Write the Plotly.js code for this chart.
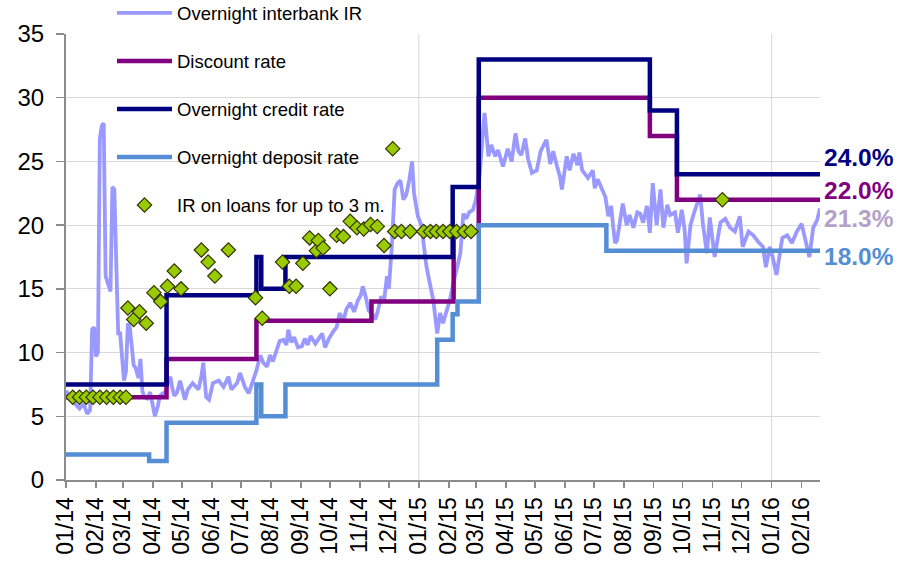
<!DOCTYPE html>
<html><head><meta charset="utf-8">
<script src="https://cdn.plot.ly/plotly-3.0.1.min.js"></script>
<style>html,body{margin:0;padding:0;background:#fff}#chart{width:902px;height:565px}</style>
</head><body><div id="chart"></div>
<script>
const interbankDates = [
'2014-01-01','2014-01-05','2014-01-10','2014-01-15','2014-01-19','2014-01-23','2014-01-26','2014-01-28','2014-01-30','2014-02-01',
'2014-02-03','2014-02-05','2014-02-07','2014-02-09','2014-02-11','2014-02-13','2014-02-16','2014-02-18','2014-02-20','2014-02-22',
'2014-02-24','2014-02-26','2014-02-28','2014-03-02','2014-03-04','2014-03-06','2014-03-08','2014-03-10','2014-03-12','2014-03-14',
'2014-03-17','2014-03-19','2014-03-21','2014-03-23','2014-03-26','2014-03-29','2014-04-01','2014-04-03','2014-04-06','2014-04-08',
'2014-04-11','2014-04-14','2014-04-17','2014-04-19','2014-04-21','2014-04-23','2014-04-26','2014-04-29','2014-05-04','2014-05-07',
'2014-05-12','2014-05-18','2014-05-21','2014-05-23','2014-05-26','2014-05-29','2014-06-02','2014-06-08','2014-06-13','2014-06-18',
'2014-06-21','2014-06-27','2014-06-30','2014-07-05','2014-07-09','2014-07-14','2014-07-17','2014-07-21','2014-07-24','2014-07-28',
'2014-07-31','2014-08-03','2014-08-07','2014-08-10','2014-08-14','2014-08-17','2014-08-19','2014-08-22','2014-08-25','2014-08-29',
'2014-09-02','2014-09-05','2014-09-08','2014-09-11','2014-09-16','2014-09-19','2014-09-23','2014-09-26','2014-09-30','2014-10-04',
'2014-10-08','2014-10-11','2014-10-15','2014-10-18','2014-10-22','2014-10-26','2014-10-30','2014-11-02','2014-11-04','2014-11-07',
'2014-11-10','2014-11-14','2014-11-17','2014-11-20','2014-11-23','2014-11-26','2014-11-29','2014-12-01','2014-12-04','2014-12-07',
'2014-12-10','2014-12-13','2014-12-16','2014-12-19','2014-12-22','2014-12-25','2014-12-27','2014-12-31','2015-01-04','2015-01-06',
'2015-01-09','2015-01-13','2015-01-16','2015-01-20','2015-01-23','2015-01-26','2015-01-30','2015-02-02','2015-02-05','2015-02-08',
'2015-02-13','2015-02-16','2015-02-19','2015-02-22','2015-02-26','2015-03-01','2015-03-05','2015-03-08','2015-03-10','2015-03-14',
'2015-03-17','2015-03-21','2015-03-24','2015-03-29','2015-04-03','2015-04-07','2015-04-11','2015-04-14','2015-04-17','2015-04-21',
'2015-04-24','2015-04-28','2015-05-03','2015-05-07','2015-05-13','2015-05-17','2015-05-20','2015-05-24','2015-05-27','2015-05-29',
'2015-06-03','2015-06-06','2015-06-10','2015-06-14','2015-06-16','2015-06-19','2015-06-22','2015-06-25','2015-06-30','2015-07-02',
'2015-07-05','2015-07-09','2015-07-13','2015-07-16','2015-07-19','2015-07-21','2015-07-23','2015-07-25','2015-07-28','2015-07-31',
'2015-08-04','2015-08-07','2015-08-11','2015-08-15','2015-08-18','2015-08-21','2015-08-25','2015-08-28','2015-08-31','2015-09-04',
'2015-09-08','2015-09-11','2015-09-15','2015-09-18','2015-09-23','2015-09-26','2015-09-30','2015-10-03','2015-10-05','2015-10-09',
'2015-10-12','2015-10-19','2015-10-22','2015-10-26','2015-10-29','2015-11-03','2015-11-09','2015-11-14','2015-11-19','2015-11-24',
'2015-11-29','2015-12-02','2015-12-08','2015-12-13','2015-12-18','2015-12-23','2015-12-26','2015-12-30','2016-01-02','2016-01-06',
'2016-01-12','2016-01-17','2016-01-22','2016-01-27','2016-02-01','2016-02-05','2016-02-09','2016-02-13','2016-02-17','2016-02-20'
];
const interbankValues = [
7.0,6.5,6.0,5.6,6.0,5.2,5.5,11.8,12.0,9.7,
10.0,26.8,27.8,28.0,16.0,15.5,14.8,23.0,22.8,17.0,
11.5,11.5,9.5,7.8,8.5,12.3,12.0,10.5,9.0,8.8,
8.0,9.5,7.0,6.5,6.4,6.9,5.5,5.0,5.8,6.6,
6.8,6.9,7.8,8.1,7.2,6.6,6.9,7.8,6.3,7.1,
7.6,7.1,8.1,9.2,6.5,6.3,7.6,7.8,7.3,8.1,
7.1,7.6,8.4,7.3,6.8,7.8,8.6,9.8,9.2,8.9,
9.8,9.3,10.2,10.9,11.0,10.6,11.8,10.8,11.2,10.4,
10.5,11.1,10.6,11.3,10.7,11.0,11.5,10.4,11.1,11.6,
12.0,13.1,12.5,13.4,13.9,13.2,14.1,14.5,15.2,14.4,
13.3,13.0,12.6,13.4,14.4,14.0,16.0,15.0,18.3,22.8,
23.3,23.5,22.0,22.4,23.5,25.0,22.5,20.7,19.9,18.5,
16.7,15.2,14.1,11.5,13.1,12.3,13.3,14.1,15.2,16.2,
17.8,20.9,20.5,21.0,21.2,22.0,24.0,27.0,28.8,25.4,
26.3,25.4,25.9,24.6,26.0,25.0,27.2,25.8,25.5,26.8,
25.2,24.1,24.3,25.8,26.7,24.8,25.8,24.6,23.8,22.8,
25.4,24.3,25.6,24.7,25.7,24.3,24.0,23.7,24.3,22.9,
23.6,22.8,22.2,20.7,21.5,19.9,18.6,18.8,20.5,21.7,
20.0,20.8,19.8,21.0,20.9,20.2,21.5,19.4,23.3,20.0,
22.8,19.8,21.6,20.8,21.0,19.4,21.2,19.6,17.0,20.0,
20.8,22.4,20.0,17.8,20.6,17.5,20.2,20.5,19.8,19.5,
20.7,18.3,19.5,19.2,18.7,18.3,16.7,18.3,17.5,16.1,
19.0,19.2,18.6,19.5,20.1,18.9,17.5,19.8,20.4,21.3
];
const discountDates = ['2014-01-01','2014-04-15','2014-07-17','2014-11-13','2015-02-06','2015-03-04','2015-08-28','2015-09-25','2016-02-20'];
const discountValues = [6.5, 9.5, 12.5, 14, 19.5, 30, 27, 22, 22];
const creditDates = ['2014-01-01','2014-04-15','2014-07-17','2014-07-22','2014-08-16','2015-02-05','2015-03-04','2015-08-28','2015-09-25','2016-02-20'];
const creditValues = [7.5, 14.5, 17.5, 15, 17.5, 23, 33, 29, 24, 24];
const depositDates = ['2014-01-01','2014-03-28','2014-04-15','2014-07-17','2014-07-22','2014-08-16','2015-01-20','2015-02-05','2015-02-10','2015-03-04','2015-07-14','2016-02-20'];
const depositValues = [2, 1.5, 4.5, 7.5, 5, 7.5, 11, 13, 14, 20, 18, 18];
const loanDates = [
'2014-01-08','2014-01-15','2014-01-22','2014-01-29','2014-02-05','2014-02-12','2014-02-19','2014-02-26','2014-03-04','2014-03-06',
'2014-03-12','2014-03-18','2014-03-25','2014-04-02','2014-04-09','2014-04-16','2014-04-23','2014-04-30','2014-05-21','2014-05-28',
'2014-06-04','2014-06-18','2014-07-16','2014-07-23','2014-08-13','2014-08-20','2014-08-27','2014-09-03','2014-09-10','2014-09-17',
'2014-09-19','2014-09-24','2014-10-01','2014-10-08','2014-10-15','2014-10-22','2014-10-29','2014-11-05','2014-11-12','2014-11-19',
'2014-11-26','2014-12-05','2014-12-07','2014-12-14','2014-12-23','2015-01-06','2015-01-13','2015-01-19','2015-01-26','2015-02-02',
'2015-02-09','2015-02-17','2015-02-24','2015-11-11'
];
const loanValues = [
6.5,6.5,6.5,6.5,6.5,6.5,6.5,6.5,6.5,13.5,
12.6,13.2,12.3,14.7,14.0,15.2,16.4,15.0,18.05,17.1,
16.0,18.05,14.3,12.7,17.1,15.2,15.2,17.0,19.0,18.0,
18.8,18.2,15.0,19.2,19.1,20.3,19.8,19.7,20.05,19.9,
18.4,26.0,19.5,19.5,19.5,19.5,19.5,19.5,19.5,19.5,
19.5,19.5,19.5,22.0
];
const seriesNames = ['Overnight interbank IR','Discount rate','Overnight credit rate','Overnight deposit rate','IR on loans for up to 3 m.'];
const seriesColors = ['#9999ff','#800080','#000080','#558ed5','#99cc00'];
const endLabels = ['24.0%','22.0%','21.3%','18.0%'];
const endValues = [24, 22, 21.3, 18];
const endColors = ['#000080','#800080','#b3a2c7','#558ed5'];
const endShifts = [17, 9.5, -9.5, -5];
const yearGrid = ['2015-01-01','2016-01-01'];
const xRange = ['2014-01-01','2016-02-20'];

const FONT = 'Liberation Sans, Arial, sans-serif';

const traces = [
  {x: interbankDates, y: interbankValues, type:'scatter', mode:'lines', name: seriesNames[0], legendgroup:'a',
   line:{color: seriesColors[0], width:3.8}},
  {x: discountDates, y: discountValues, type:'scatter', mode:'lines', name: seriesNames[1], legendgroup:'b',
   line:{color: seriesColors[1], width:4.5, shape:'hv'}},
  {x: creditDates, y: creditValues, type:'scatter', mode:'lines', name: seriesNames[2], legendgroup:'c',
   line:{color: seriesColors[2], width:4.5, shape:'hv'}},
  {x: depositDates, y: depositValues, type:'scatter', mode:'lines', name: seriesNames[3], legendgroup:'d',
   line:{color: seriesColors[3], width:4.5, shape:'hv'}},
  {x: loanDates, y: loanValues, type:'scatter', mode:'markers', name: seriesNames[4], legendgroup:'e',
   marker:{symbol:'diamond', size:11, color: seriesColors[4], line:{color:'#333300', width:1.2}}}
];

const annotations = endLabels.map((t, i) => ({
  xref:'paper', x:1, xanchor:'right', xshift:76,
  yref:'y', y:endValues[i], yanchor:'middle', yshift:endShifts[i], height:22, valign:'middle',
  text:'<b>'+t+'</b>', showarrow:false,
  font:{family:FONT, size:24.5, color:endColors[i]}
}));

const shapes = yearGrid.map(d => ({
  type:'line', xref:'x', yref:'paper', x0:d, x1:d, y0:0, y1:1,
  line:{color:'#d9d9d9', width:1}, layer:'below'
}));

const layout = {
  width:902, height:565,
  margin:{l:66, r:82, t:34, b:85, autoexpand:false},
  paper_bgcolor:'#ffffff', plot_bgcolor:'#ffffff',
  font:{family:FONT, color:'#000'},
  showlegend:true,
  legend:{x:0.061, y:1.089, xanchor:'left', yanchor:'top', traceorder:'grouped', tracegroupgap:21,
    font:{family:FONT, size:18.5, color:'#000'}, bgcolor:'rgba(0,0,0,0)', itemwidth:55},
  xaxis:{type:'date', range:xRange, dtick:'M1', tick0:'2014-01-01', tickformat:'%m/%y', tickangle:-90,
    showgrid:false, showline:true, linecolor:'#8c8c8c', linewidth:2, ticks:'outside', ticklen:6,
    tickcolor:'#8c8c8c', tickwidth:1.5, tickfont:{family:FONT, size:23, color:'#000'}, zeroline:false},
  yaxis:{range:[0,35], dtick:5, tick0:0, showgrid:true, gridcolor:'#d9d9d9', gridwidth:1,
    showline:true, linecolor:'#8c8c8c', linewidth:2, ticks:'outside', ticklen:8, tickcolor:'#8c8c8c', tickwidth:1.5,
    ticklabelstandoff:7, tickfont:{family:FONT, size:24, color:'#000'}, zeroline:false},
  annotations: annotations,
  shapes: shapes
};

Plotly.newPlot('chart', traces, layout, {displayModeBar:false, staticPlot:true});
</script>
</body></html>
